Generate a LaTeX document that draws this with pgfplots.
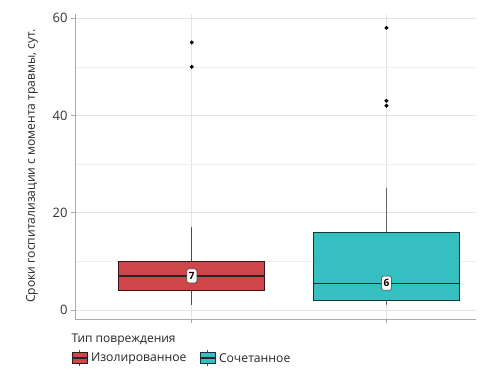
\documentclass[border=0pt]{standalone}
\usepackage{fontspec}
\setmainfont{Open Sans}
\usepackage{pgfplots}
\pgfplotsset{compat=1.18}
\usepgfplotslibrary{statistics}
\usetikzlibrary{shapes.misc}
\definecolor{cred}{RGB}{206,69,74}
\definecolor{cteal}{RGB}{54,191,193}
\definecolor{gridc}{RGB}{228,228,228}
\definecolor{axc}{RGB}{170,170,170}
\begin{document}
\begin{tikzpicture}[x=1pt,y=1pt]
\useasboundingbox (0,0) rectangle (497,380);
\begin{axis}[
  at={(75pt,61pt)}, anchor=south west,
  scale only axis, width=401pt, height=305pt,
  xmin=0.4, xmax=2.46, ymin=-1.85, ymax=60.85,
  boxplot/draw direction=y,
  axis lines*=left,
  axis line style={axc, line width=0.8pt},
  xtick={1,2}, xticklabels={},
  ytick={0,20,40,60}, minor ytick={10,30,50},
  ymajorgrids, yminorgrids, xmajorgrids,
  major grid style={gridc, line width=0.6pt},
  minor grid style={gridc!60, line width=0.5pt},
  tick align=outside, major tick length=4pt,
  tick style={axc, line width=0.6pt},
  minor tick length=0pt,
  /pgf/number format/assume math mode=true,
  yticklabel style={font=\fontsize{13}{14}\selectfont, text=black!80},
  clip=false,
]
\addplot+[boxplot prepared={draw position=1, lower whisker=1, lower quartile=4, median=7, upper quartile=10, upper whisker=17, box extend=0.75, whisker extend=0},
  fill=cred, draw=black!70!cred, line width=0.9pt, mark=*, mark size=1.9pt,
  mark options={fill=black, draw=black, line width=0.2pt},
  boxplot/every whisker/.style={draw=black!70, line width=0.7pt},
  boxplot/every median/.style={draw=black!85, line width=1.4pt}]
  coordinates {(1,50) (1,55)};
\addplot+[boxplot prepared={draw position=2, lower whisker=1, lower quartile=2, median=5.5, upper quartile=16, upper whisker=25, box extend=0.75, whisker extend=0},
  fill=cteal, draw=black!70!cteal, line width=0.9pt, mark=*, mark size=1.9pt,
  mark options={fill=black, draw=black, line width=0.2pt},
  boxplot/every whisker/.style={draw=black!60, line width=0.7pt},
  boxplot/every median/.style={draw=black!85, line width=1.4pt}]
  coordinates {(2,42) (2,43) (2,58)};
\node[draw=black!80, fill=white, rounded corners=2pt, inner sep=1pt, minimum width=10pt, minimum height=14pt, line width=0.5pt, font=\fontsize{10}{11}\selectfont\bfseries] at (axis cs:1,7) {7};
\node[draw=black!80, fill=white, rounded corners=2pt, inner sep=1pt, minimum width=10pt, minimum height=14pt, line width=0.5pt, font=\fontsize{10}{11}\selectfont\bfseries] at (axis cs:2,5.5) {6};
\end{axis}
\node[rotate=90, font=\fontsize{12.1}{14}\selectfont, text=black!85] at (32,214) {Сроки госпитализации с момента травмы, сут.};
\node[anchor=west, font=\fontsize{12}{14}\selectfont, text=black!85] at (68,40) {Тип повреждения};
% legend keys
\draw[black!70, line width=0.7pt] (79.5,14) -- (79.5,30);
\filldraw[fill=cred, draw=black!70!cred, line width=0.7pt] (72,16.5) rectangle (87,27.5);
\draw[black!85, line width=1.1pt] (72,22) -- (87,22);
\node[anchor=west, font=\fontsize{12.2}{14}\selectfont, text=black!85] at (87.5,21.5) {Изолированное};
\draw[black!70, line width=0.7pt] (207.5,14) -- (207.5,30);
\filldraw[fill=cteal, draw=black!70!cteal, line width=0.7pt] (200,16.5) rectangle (215,27.5);
\draw[black!85, line width=1.1pt] (200,22) -- (215,22);
\node[anchor=west, font=\fontsize{12.2}{14}\selectfont, text=black!85] at (215.5,21.5) {Сочетанное};
\end{tikzpicture}
\end{document}
